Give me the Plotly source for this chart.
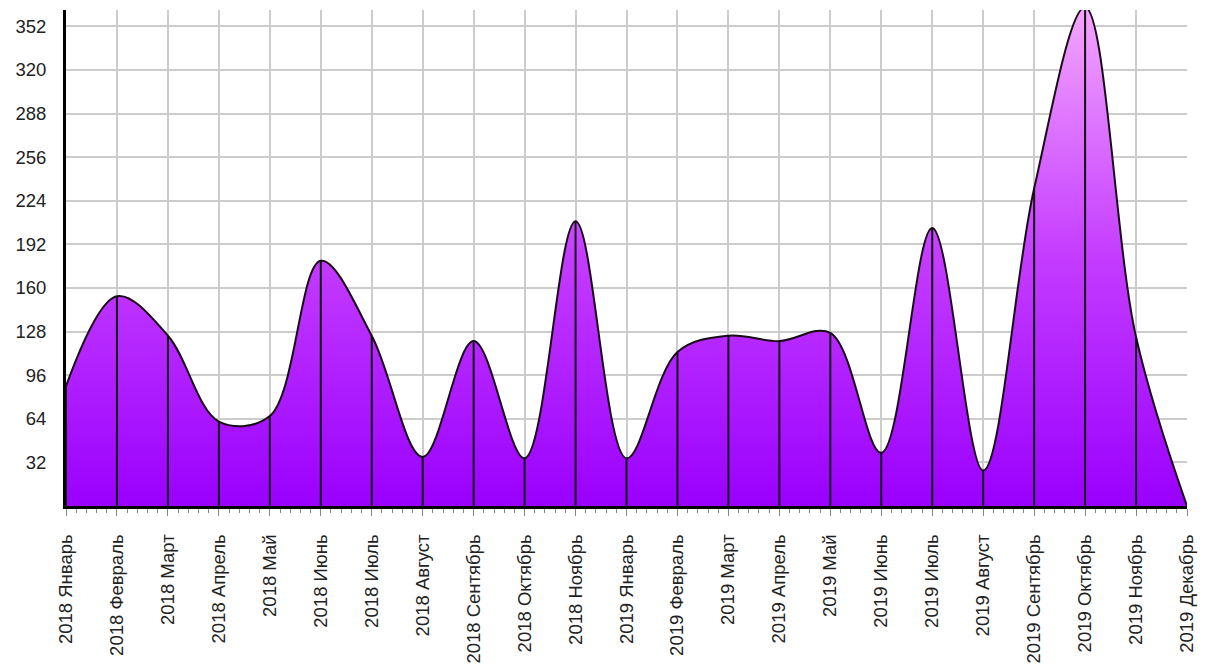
import plotly.graph_objects as go

labels = ["2018 Январь", "2018 Февраль", "2018 Март", "2018 Апрель", "2018 Май",
          "2018 Июнь", "2018 Июль", "2018 Август", "2018 Сентябрь", "2018 Октябрь",
          "2018 Ноябрь", "2019 Январь", "2019 Февраль", "2019 Март", "2019 Апрель",
          "2019 Май", "2019 Июнь", "2019 Июль", "2019 Август", "2019 Сентябрь",
          "2019 Октябрь", "2019 Ноябрь", "2019 Декабрь"]
values = [88, 154, 125, 62, 66, 180, 125, 36, 121, 35, 209, 35, 113, 125, 121,
          127, 39, 204, 26, 233, 366, 124, 0]
y_ticks = [32, 64, 96, 128, 160, 192, 224, 256, 288, 320, 352]

xs = list(range(len(labels)))

drop_x, drop_y = [], []
for i, v in zip(xs, values):
    drop_x += [i, i, None]
    drop_y += [0, v, None]

fig = go.Figure()
fig.add_trace(go.Scatter(
    x=xs, y=values, mode="lines",
    line=dict(shape="spline", smoothing=1.0, color="#1a0a1a", width=2),
    fill="tozeroy",
    fillgradient=dict(type="vertical",
                      colorscale=[[0, "#9a00ff"], [0.5, "#c43cff"], [1, "#f4a6ff"]]),
    hoverinfo="skip", showlegend=False, cliponaxis=False))
fig.add_trace(go.Scatter(
    x=drop_x, y=drop_y, mode="lines",
    line=dict(color="#111111", width=2),
    hoverinfo="skip", showlegend=False))

font = dict(family="Liberation Sans, Arial, sans-serif", size=18.5, color="#222222")
fig.update_layout(
    width=1209, height=665,
    margin=dict(l=58, r=30, t=2, b=167),
    paper_bgcolor="white", plot_bgcolor="white",
    font=font,
    xaxis=dict(
        range=[0, len(labels) - 1], tickvals=xs, ticktext=labels, tickangle=-90,
        showgrid=True, gridcolor="#cccccc", gridwidth=2,
        showline=True, linecolor="black", linewidth=3,
        ticks="outside", ticklen=7, tickcolor="#888888", tickwidth=1,
        minor=dict(dtick=0.2, ticks="outside", ticklen=4, tickcolor="#888888",
                   showgrid=False),
        ticklabelstandoff=11, automargin=False,
        zeroline=False, tickfont=font),
    yaxis=dict(
        range=[0, 364], tickvals=y_ticks,
        showgrid=True, gridcolor="#cccccc", gridwidth=2,
        showline=True, linecolor="black", linewidth=3,
        ticks="", ticklabelstandoff=13, automargin=False,
        zeroline=False, tickfont=font),
)
fig.write_html("out.html")
